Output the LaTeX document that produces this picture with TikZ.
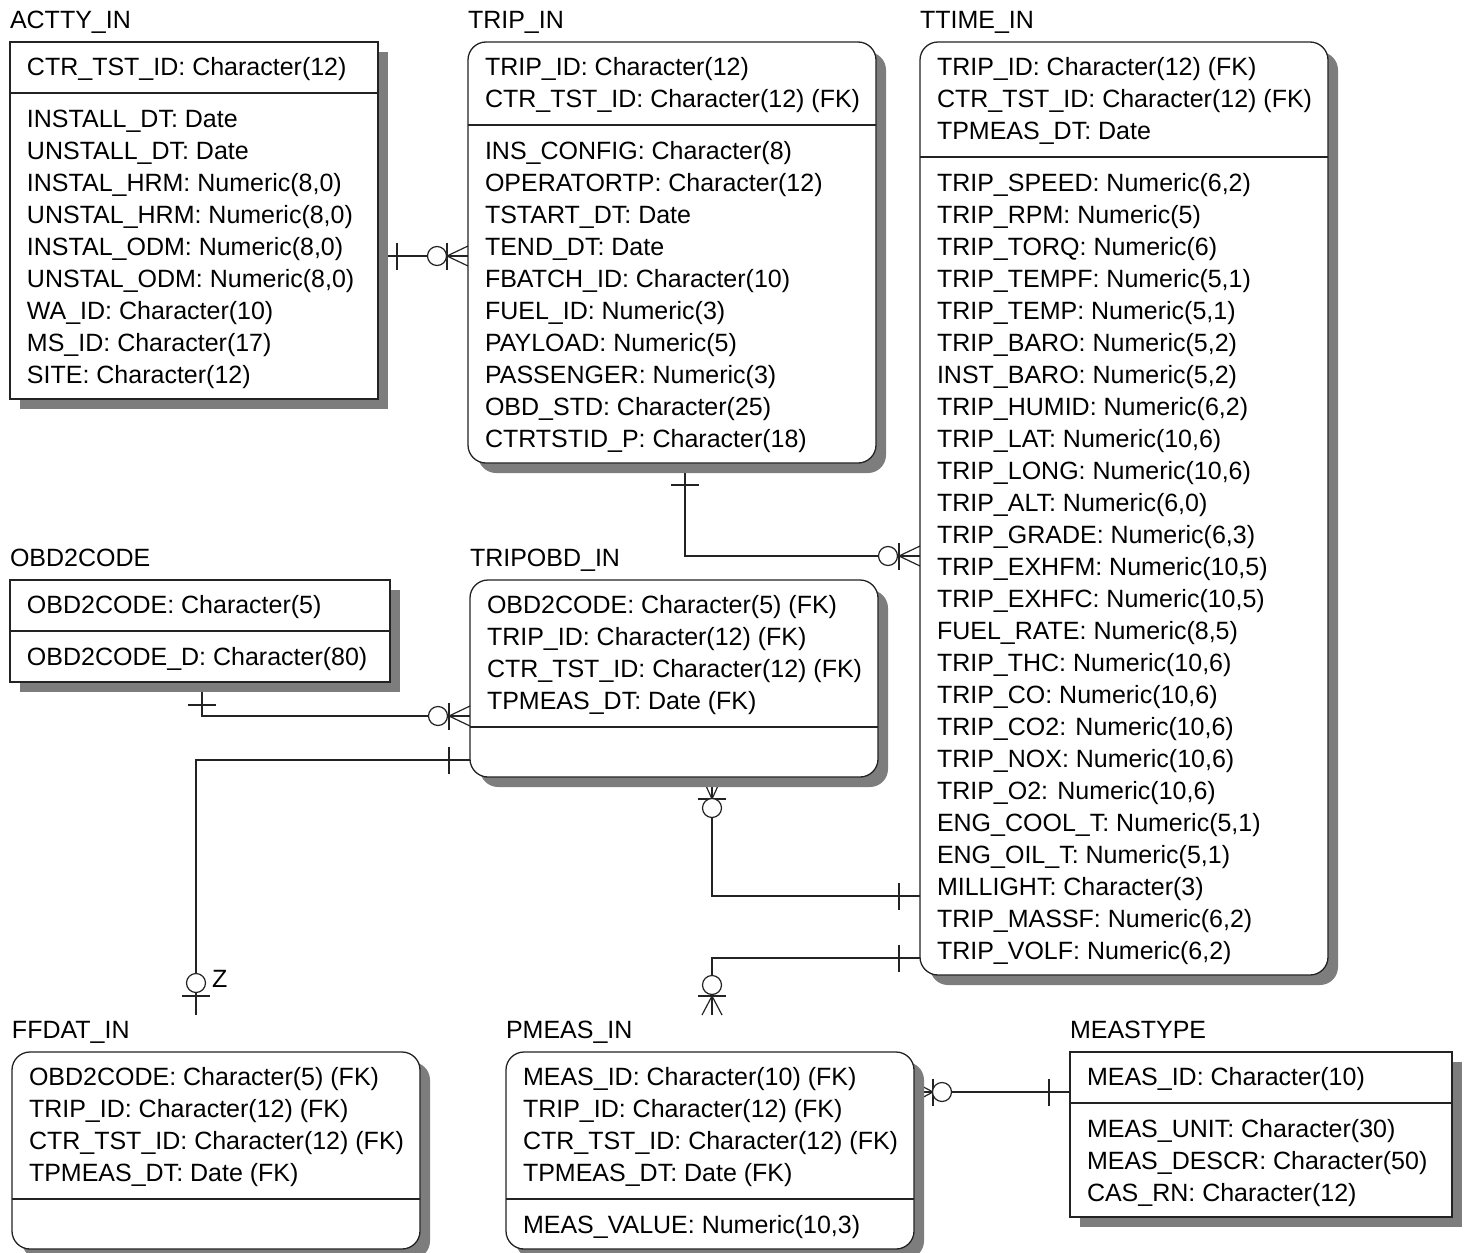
\documentclass[tikz,border=0pt]{standalone}
\usepackage{fontspec}
\setmainfont{Liberation Sans}
\usetikzlibrary{calc,shadows,backgrounds}
\definecolor{shade}{RGB}{125,125,125}
\definecolor{ink}{RGB}{35,35,35}
\tikzset{
 attr/.style={anchor=base west, inner sep=0pt, outer sep=0pt, font=\fontsize{25}{30}\selectfont},
 ttl/.style={attr},
 entbox/.style={draw=ink, line width=1.3pt, fill=white, inner sep=0pt, outer sep=0pt,
   drop shadow={shadow xshift=10pt, shadow yshift=-10pt, fill=shade, opacity=1}},
 indep/.style={entbox},
 dep/.style={entbox, rounded corners=18pt},
 sepline/.style={draw=ink, line width=1.3pt},
 rel/.style={draw=ink, line width=1.2pt},
}
% entity box: name, style, x, y, w, h, title
\newcommand\entity[7]{%
  \node[#2, minimum width=#5pt, minimum height=#6pt, anchor=north west] (#1) at (#3,#4) {};
  \node[ttl] (#1-t) at (#3,{#4-14}) {#7};}
% separator: name, y
\newcommand\sepat[2]{\draw[sepline] (#1.west |- 0,#2) -- (#1.east |- 0,#2);}
% rows: prefix, x, first baseline, list
\newcommand\rows[4]{%
  \foreach \t [count=\i] in {#4}{\node[attr] (#1-\i) at (#2,{#3+32*(\i-1)}) {\t};}}
% connector symbols
\newcommand\tickV[3]{\draw[rel] ($(#1)+(#2,#3)+(0,-13.5)$) -- ++(0,27);}
\newcommand\tickH[3]{\draw[rel] ($(#1)+(#2,#3)+(-14,0)$) -- ++(28,0);}
\newcommand\ring[3]{\draw[rel,fill=white] ($(#1)+(#2,#3)$) circle[radius=9.5pt];}
\newcommand\crowH[2]{\draw[rel] ($(#1)+(0,-10)$) -- ($(#1)+(#2,0)$) -- ($(#1)+(0,10)$);}
\newcommand\crowV[2]{\draw[rel] ($(#1)+(-10,0)$) -- ($(#1)+(0,#2)$) -- ($(#1)+(10,0)$);}
\begin{document}
\begin{tikzpicture}[x=1pt,y=-1pt]
\useasboundingbox (0,0) rectangle (1465,1253);

% ---------------- entities ----------------
\entity{actty}{indep}{10}{42}{368}{357}{ACTTY\_IN}
\sepat{actty}{93}
\rows{actk}{27}{75}{{CTR\_TST\_ID: Character(12)}}
\rows{acta}{27}{127}{{INSTALL\_DT: Date},{UNSTALL\_DT: Date},{INSTAL\_HRM: Numeric(8,0)},{UNSTAL\_HRM: Numeric(8,0)},{INSTAL\_ODM: Numeric(8,0)},{UNSTAL\_ODM: Numeric(8,0)},{WA\_ID: Character(10)},{MS\_ID: Character(17)},{SITE: Character(12)}}

\entity{trip}{dep}{468}{42}{408}{421}{TRIP\_IN}
\sepat{trip}{125}
\rows{tripk}{485}{75}{{TRIP\_ID: Character(12)},{CTR\_TST\_ID: Character(12) (FK)}}
\rows{tripa}{485}{159}{{INS\_CONFIG: Character(8)},{OPERATORTP: Character(12)},{TSTART\_DT: Date},{TEND\_DT: Date},{FBATCH\_ID: Character(10)},{FUEL\_ID: Numeric(3)},{PAYLOAD: Numeric(5)},{PASSENGER: Numeric(3)},{OBD\_STD: Character(25)},{CTRTSTID\_P: Character(18)}}

\entity{ttime}{dep}{920}{42}{408}{933}{TTIME\_IN}
\sepat{ttime}{157}
\rows{ttk}{937}{75}{{TRIP\_ID: Character(12) (FK)},{CTR\_TST\_ID: Character(12) (FK)},{TPMEAS\_DT: Date}}
\rows{tta}{937}{191}{{TRIP\_SPEED: Numeric(6,2)},{TRIP\_RPM: Numeric(5)},{TRIP\_TORQ: Numeric(6)},{TRIP\_TEMPF: Numeric(5,1)},{TRIP\_TEMP: Numeric(5,1)},{TRIP\_BARO: Numeric(5,2)},{INST\_BARO: Numeric(5,2)},{TRIP\_HUMID: Numeric(6,2)},{TRIP\_LAT: Numeric(10,6)},{TRIP\_LONG: Numeric(10,6)},{TRIP\_ALT: Numeric(6,0)},{TRIP\_GRADE: Numeric(6,3)},{TRIP\_EXHFM: Numeric(10,5)},{TRIP\_EXHFC: Numeric(10,5)},{FUEL\_RATE: Numeric(8,5)},{TRIP\_THC: Numeric(10,6)},{TRIP\_CO: Numeric(10,6)},{TRIP\_CO2: Numeric(10,6)},{TRIP\_NOX: Numeric(10,6)},{TRIP\_O2: Numeric(10,6)},{ENG\_COOL\_T: Numeric(5,1)},{ENG\_OIL\_T: Numeric(5,1)},{MILLIGHT: Character(3)},{TRIP\_MASSF: Numeric(6,2)},{TRIP\_VOLF: Numeric(6,2)}}

\entity{obd}{indep}{10}{580}{380}{102}{OBD2CODE}
\sepat{obd}{631}
\rows{obdk}{27}{613}{{OBD2CODE: Character(5)}}
\rows{obda}{27}{665}{{OBD2CODE\_D: Character(80)}}

\entity{tripobd}{dep}{470}{580}{408}{197}{TRIPOBD\_IN}
\sepat{tripobd}{727}
\rows{tobk}{487}{613}{{OBD2CODE: Character(5) (FK)},{TRIP\_ID: Character(12) (FK)},{CTR\_TST\_ID: Character(12) (FK)},{TPMEAS\_DT: Date (FK)}}

\entity{ffdat}{dep}{12}{1052}{408}{197}{FFDAT\_IN}
\sepat{ffdat}{1199}
\rows{ffk}{29}{1085}{{OBD2CODE: Character(5) (FK)},{TRIP\_ID: Character(12) (FK)},{CTR\_TST\_ID: Character(12) (FK)},{TPMEAS\_DT: Date (FK)}}

\entity{pmeas}{dep}{506}{1052}{408}{197}{PMEAS\_IN}
\sepat{pmeas}{1199}
\rows{pmk}{523}{1085}{{MEAS\_ID: Character(10) (FK)},{TRIP\_ID: Character(12) (FK)},{CTR\_TST\_ID: Character(12) (FK)},{TPMEAS\_DT: Date (FK)}}
\rows{pma}{523}{1233}{{MEAS\_VALUE: Numeric(10,3)}}

\entity{meas}{indep}{1070}{1052}{382}{165}{MEASTYPE}
\sepat{meas}{1103}
\rows{msk}{1087}{1085}{{MEAS\_ID: Character(10)}}
\rows{msa}{1087}{1137}{{MEAS\_UNIT: Character(30)},{MEAS\_DESCR: Character(50)},{CAS\_RN: Character(12)}}

% ---------------- relationships ----------------
\coordinate (c1a) at (actty.east |- 0,256);
\coordinate (c1b) at (trip.west |- 0,256);
\coordinate (c2a) at (trip.south -| 685,0);
\coordinate (c2b) at (ttime.west |- 0,556);
\coordinate (c3a) at (obd.south -| 202,0);
\coordinate (c3b) at (tripobd.west |- 0,716);
\coordinate (c4a) at (tripobd.west |- 0,760);
\coordinate (c4b) at (196,1015);
\coordinate (c5a) at (ttime.west |- 0,896);
\coordinate (c5b) at (tripobd.south -| 712,0);
\coordinate (c6a) at (ttime.west |- 0,958);
\coordinate (c6b) at (712,1015);
\coordinate (c7a) at (meas.west |- 0,1092);
\coordinate (c7b) at (pmeas.east |- 0,1092);

\begin{pgfonlayer}{background}
\draw[rel] (c1a) -- (c1b);
\draw[rel] (c2a) |- (c2b);
\draw[rel] (c3a) |- (c3b);
\draw[rel] (c4a) -| (c4b);
\draw[rel] (c5a) -| (c5b);
\draw[rel] (c6a) -| (c6b);
\draw[rel] (c7a) -- (c7b);
% C1
\tickV{c1a}{19}{0}
\tickV{c1b}{-21}{0}
\crowH{c1b}{-21}
\ring{c1b}{-31}{0}
% C2
\tickH{c2a}{0}{22}
\tickV{c2b}{-21}{0}
\crowH{c2b}{-21}
\ring{c2b}{-32}{0}
% C3
\tickH{c3a}{0}{23}
\tickV{c3b}{-21}{0}
\crowH{c3b}{-21}
\ring{c3b}{-32}{0}
% C4
\tickV{c4a}{-21}{0}
\tickH{c4b}{0}{-19}
\ring{c4b}{0}{-32}
% C5
\tickV{c5a}{-21}{0}
\crowV{c5b}{22}
\tickH{c5b}{0}{22}
\ring{c5b}{0}{31}
% C6
\tickV{c6a}{-21}{0}
\crowV{c6b}{-19}
\tickH{c6b}{0}{-19}
\ring{c6b}{0}{-30}
% C7
\tickV{c7a}{-21}{0}
\tickV{c7b}{19}{0}
\crowH{c7b}{19}
\ring{c7b}{28}{0}
\end{pgfonlayer}
\node[attr] (zlabel) at (212,987) {Z};
\end{tikzpicture}
\end{document}
